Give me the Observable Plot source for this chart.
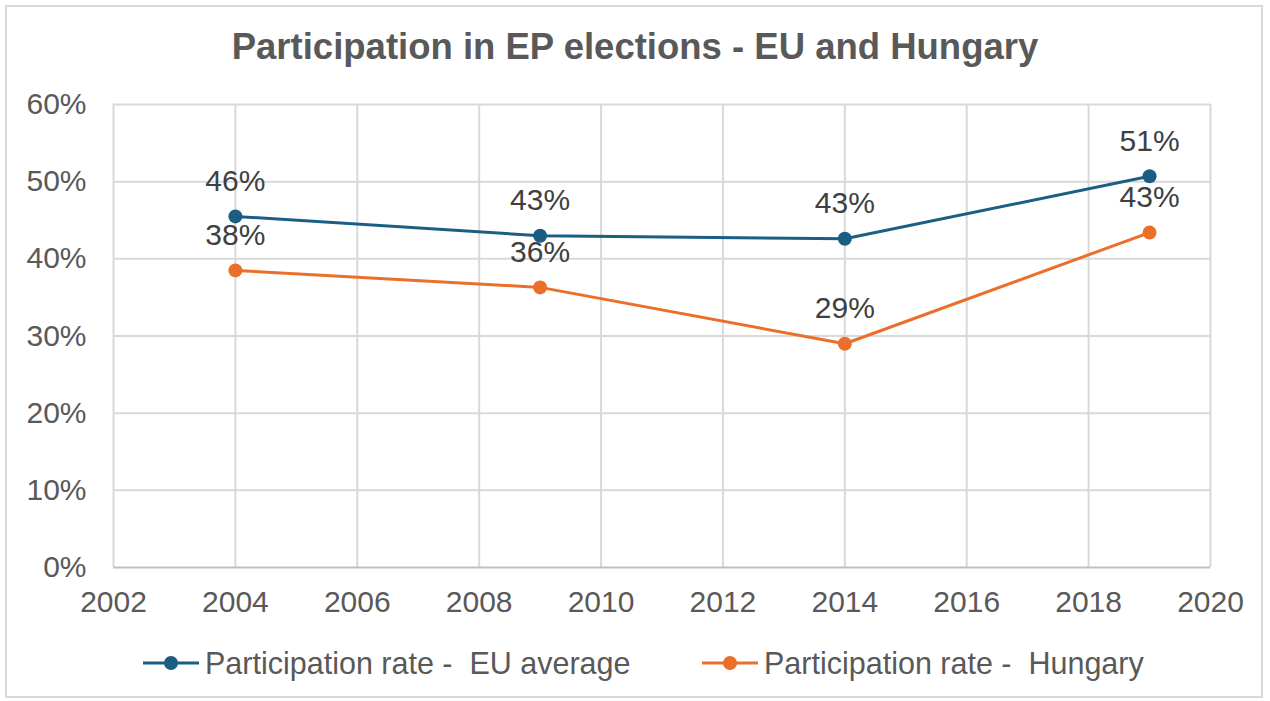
<!DOCTYPE html>
<html>
<head>
<meta charset="utf-8">
<script src="https://cdn.jsdelivr.net/npm/d3@7"></script>
<script src="https://cdn.jsdelivr.net/npm/@observablehq/plot@0.6"></script>
<style>
  html, body { margin: 0; padding: 0; background: #fff; }
  body { width: 1270px; height: 701px; position: relative; overflow: hidden; font-family: "Liberation Sans", Arial, sans-serif; }
  #frame { position: absolute; left: 5px; top: 5px; width: 1258px; height: 693px; border: 2px solid #d9d9d9; box-sizing: border-box; }
  #title { position: absolute; left: 0; width: 1270px; top: 26px; text-align: center; font-size: 36.5px; font-weight: bold; color: #595959; line-height: 42px; }
  #chart { position: absolute; left: 0; top: 0; }
  .leg { position: absolute; top: 643px; height: 40px; display: flex; align-items: center; font-size: 30.5px; color: #595959; white-space: pre; }
  .leg svg { margin-right: 6px; }
</style>
</head>
<body>
<div id="frame"></div>
<div id="chart"></div>
<div id="title">Participation in EP elections - EU and Hungary</div>
<div id="legend"></div>
<script>
const years = [2004, 2009, 2014, 2019];
const euAverage = [45.5, 43.0, 42.6, 50.7];
const hungary = [38.5, 36.3, 29.0, 43.4];
const euLabels = ["46%", "43%", "43%", "51%"];
const huLabels = ["38%", "36%", "29%", "43%"];
const seriesNames = ["Participation rate -  EU average", "Participation rate -  Hungary"];
const seriesColors = ["#1b5e84", "#ea6f2a"];
const xTicks = [2002, 2004, 2006, 2008, 2010, 2012, 2014, 2016, 2018, 2020];
const yTicks = [0, 10, 20, 30, 40, 50, 60];

const data = [];
years.forEach((y, i) => data.push({year: y, value: euAverage[i], label: euLabels[i], series: seriesNames[0]}));
years.forEach((y, i) => data.push({year: y, value: hungary[i], label: huLabels[i], series: seriesNames[1]}));

const chart = Plot.plot({
  width: 1270,
  height: 701,
  marginLeft: 113,
  marginRight: 60,
  marginTop: 104,
  marginBottom: 134,
  style: {fontFamily: "Liberation Sans, Arial, sans-serif", background: "transparent", overflow: "visible"},
  x: {domain: [2002, 2020], ticks: xTicks, tickFormat: d => String(d), label: null},
  y: {domain: [0, 60], ticks: yTicks, tickFormat: d => d + "%", label: null},
  color: {domain: seriesNames, range: seriesColors},
  marks: [
    Plot.ruleX(xTicks, {stroke: "#d9d9d9", strokeWidth: 2}),
    Plot.ruleY(yTicks.filter(d => d > 0), {stroke: "#d9d9d9", strokeWidth: 2}),
    Plot.ruleY([0], {stroke: "#bfbfbf", strokeWidth: 2}),
    Plot.axisX({ticks: xTicks, tickSize: 0, tickPadding: 23, fontSize: 30, fill: "#595959", tickFormat: d => String(d), label: null}),
    Plot.axisY({ticks: yTicks, tickSize: 0, tickPadding: 27, fontSize: 30, fill: "#595959", tickFormat: d => d + "%", label: null}),
    Plot.line(data, {x: "year", y: "value", z: "series", stroke: "series", strokeWidth: 3}),
    Plot.dot(data, {x: "year", y: "value", fill: "series", r: 7}),
    Plot.text(data, {x: "year", y: "value", text: "label", dy: -35, fontSize: 30, fill: "#404040"})
  ]
});
document.getElementById("chart").appendChild(chart);

const legend = document.getElementById("legend");
const legX = [143, 702];
seriesNames.forEach((name, i) => {
  const div = document.createElement("div");
  div.className = "leg";
  div.style.left = legX[i] + "px";
  div.innerHTML = `<svg width="56" height="20"><line x1="0" x2="56" y1="10" y2="10" stroke="${seriesColors[i]}" stroke-width="3"/><circle cx="28" cy="10" r="7" fill="${seriesColors[i]}"/></svg><span>${name}</span>`;
  legend.appendChild(div);
});
</script>
</body>
</html>
